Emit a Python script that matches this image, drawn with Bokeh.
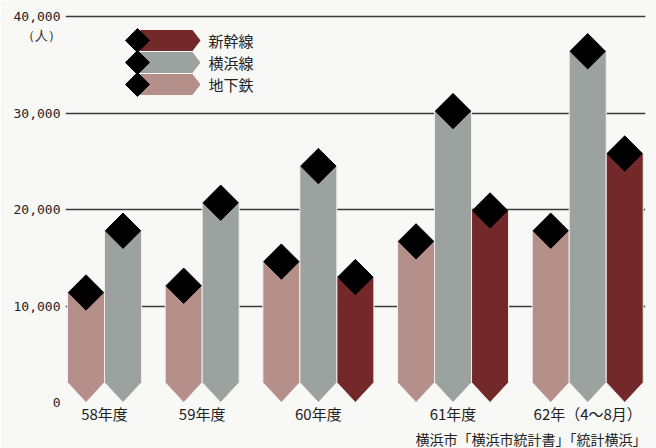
import numpy as np
from bokeh.plotting import figure
from bokeh.models import FixedTicker, Title
from bokeh.embed import file_html
from bokeh.resources import INLINE
from bokeh.core.properties import value

# ---------------- data ----------------
categories = ["58年度", "59年度", "60年度", "61年度", "62年（4～8月）"]
series = ["地下鉄", "横浜線", "新幹線"]
subway = [11400, 12100, 14600, 16700, 17800]
yokohama_line = [17800, 20700, 24500, 30200, 36400]
shinkansen = [None, None, 13000, 19900, 25800]
y_ticks = [0, 10000, 20000, 30000, 40000]
y_tick_labels = ["0", "10,000", "20,000", "30,000", "40,000"]
unit_label = "（人）"
source_note = "横浜市「横浜市統計書」「統計横浜」"
colors = ["#b58f8a", "#9ca29f", "#73292a"]

# ---------------- layout ----------------
W, H = 656, 448
BL, BR, BT, BB = 65, 11, 5, 46
FW, FH = W - BL - BR, H - BT - BB
PX_X = 37.0            # pixels per bar width
PX_Y = 96.5 / 10000.0  # pixels per person
GAP = 0.64
x_start = -2 / PX_X
x_end = x_start + FW / PX_X
y_end = FH / PX_Y
SHOULDER = 20 / PX_Y
BG = "#f8f8f6"
FONT = "Noto Sans CJK JP"

def dx(px):
    return x_start + (px - BL) / PX_X

def dy(py):
    return (BT + FH - py) / PX_Y

values = [subway, yokohama_line, shinkansen]

# bar positions from the data
bxs, bys, bcol, dxs, dys, centers = [], [], [], [], [], []
cursor = 0.0
for gi in range(len(categories)):
    start = cursor
    for si in range(len(series)):
        v = values[si][gi]
        if v is None:
            continue
        l, r, m = cursor, cursor + 1.0, cursor + 0.5
        bxs.append([l, r, r, m, l])
        bys.append([v, v, SHOULDER, 0, SHOULDER])
        bcol.append(colors[si])
        dxs.append(m)
        dys.append(v)
        cursor += 1.0
    centers.append(round((start + cursor) / 2, 4))
    cursor += GAP

p = figure(width=W, height=H, output_backend="svg", toolbar_location=None,
           x_range=(x_start, x_end), y_range=(0, y_end),
           min_border_left=BL, min_border_right=BR, min_border_top=BT, min_border_bottom=0)
p.background_fill_color = BG
p.border_fill_color = BG
p.outline_line_color = None

p.xgrid.visible = False
p.ygrid.ticker = FixedTicker(ticks=y_ticks[1:])
p.ygrid.grid_line_color = "#3a3a3a"
p.ygrid.grid_line_width = 1.6

# unit label sits just below the top tick label
unit_pos = round(dy(35), 2)
p.yaxis.ticker = FixedTicker(ticks=y_ticks + [unit_pos])
overrides = {t: s for t, s in zip(y_ticks, y_tick_labels)}
overrides[unit_pos] = unit_label
p.yaxis.major_label_overrides = overrides
p.xaxis.ticker = FixedTicker(ticks=centers)
p.xaxis.major_label_overrides = {c: s for c, s in zip(centers, categories)}
for ax in (p.xaxis, p.yaxis):
    ax.axis_line_color = None
    ax.major_tick_line_color = None
    ax.minor_tick_line_color = None
    ax.major_tick_out = 0
    ax.major_tick_in = 0
    ax.minor_tick_out = 0
    ax.minor_tick_in = 0
    ax.major_label_text_color = "#222222"
p.yaxis.major_label_text_font = "DejaVu Sans Mono"
p.yaxis.major_label_text_font_size = "13px"
p.yaxis.major_label_standoff = 5
p.xaxis.major_label_text_font = FONT
p.xaxis.major_label_text_font_size = "15px"
p.xaxis.major_label_standoff = 0

p.patches(xs=bxs, ys=bys, fill_color=bcol, line_color="#f2efeb", line_width=1)
p.scatter(dxs, dys, marker="square", size=25, angle=np.pi / 4,
          fill_color="black", line_color="black")

# legend (top to bottom: 新幹線, 横浜線, 地下鉄)
lx, ly, ltx, lcol, lt = [], [], [], [], []
for row, si in enumerate(reversed(range(len(series)))):
    c = 40 + 22 * row
    lx.append([dx(140), dx(192), dx(200), dx(192), dx(140)])
    ly.append([dy(c - 10.5), dy(c - 10.5), dy(c), dy(c + 10.5), dy(c + 10.5)])
    lcol.append(colors[si])
    ltx.append(dy(c))
    lt.append(series[si])
p.patches(xs=lx, ys=ly, fill_color=lcol, line_color=None)
p.scatter([dx(137)] * 3, ltx, marker="square", size=17, angle=np.pi / 4,
          fill_color="black", line_color="black")
p.text([dx(208)] * 3, ltx, text=lt, text_font=value(FONT), text_font_size="15px",
       text_align="left", text_baseline="middle", text_color="#222222")

note = Title(text=source_note, align="left", offset=415 - BL, standoff=0,
             text_font=FONT, text_font_size="14px", text_font_style="normal",
             text_color="#222222")
p.add_layout(note, "below")

open("out.html", "w").write(file_html(p, INLINE))
